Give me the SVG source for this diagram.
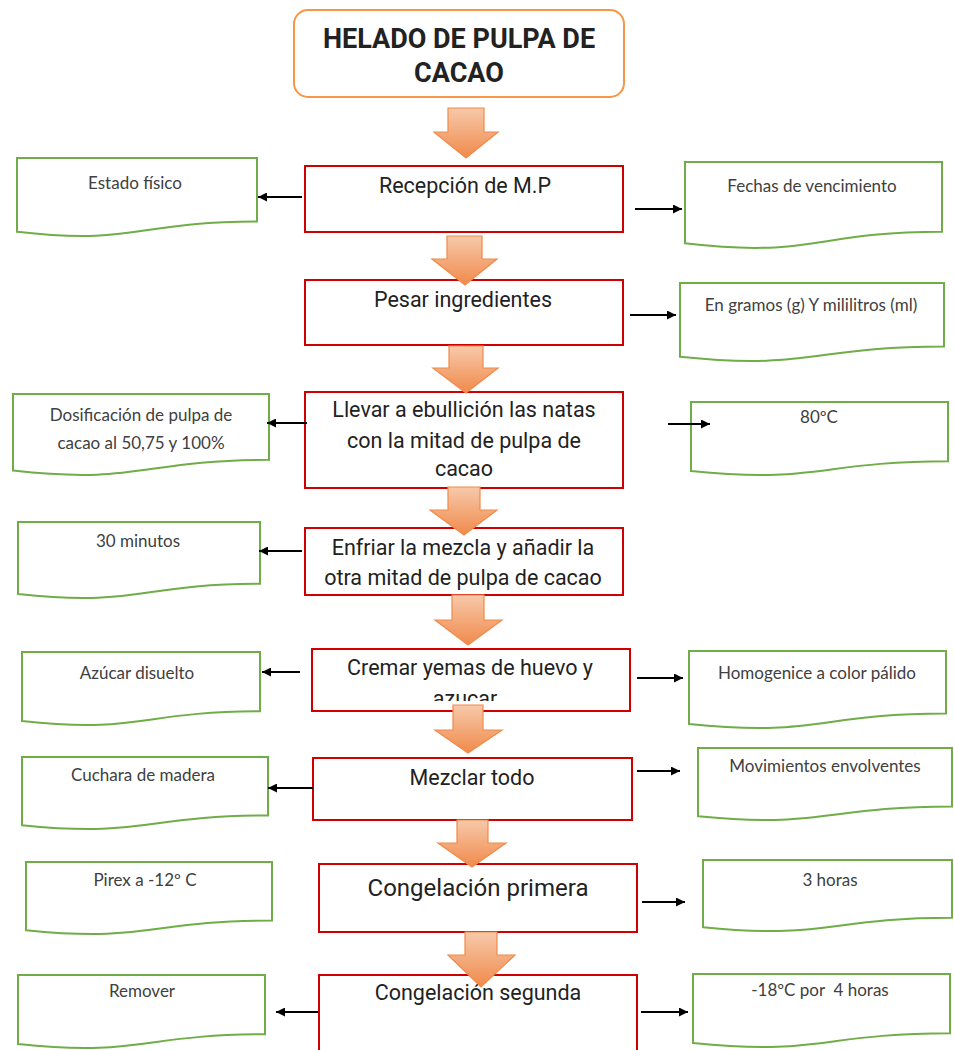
<svg xmlns="http://www.w3.org/2000/svg" width="954" height="1050" viewBox="0 0 954 1050">
<defs>
<style>
.title{font-family:Roboto,"Liberation Sans",sans-serif;font-weight:bold;font-size:27px;fill:#222;text-anchor:middle}
.proc{fill:#fff;stroke:#D00000;stroke-width:2}
.ptxt{font-family:Roboto,"Liberation Sans",sans-serif;font-size:21.5px;fill:#222;text-anchor:middle}
.doc{fill:#fff;stroke:#70AD47;stroke-width:2}
.dtxt{font-family:Lato,"Open Sans",sans-serif;font-size:17px;fill:#404040;text-anchor:middle;white-space:pre}
.conn{stroke:#000;stroke-width:2;fill:none;marker-end:url(#ah)}
.blk{fill:url(#og);stroke:#F08A4B;stroke-width:1.2}
</style>
<marker id="ah" markerUnits="userSpaceOnUse" markerWidth="9" markerHeight="9" refX="9" refY="4.5" orient="auto">
<path d="M0,0 L9,4.5 L0,9 Z" fill="#000"/>
</marker>
<linearGradient id="og" x1="0" y1="0" x2="0" y2="1">
<stop offset="0" stop-color="#F7C9AA"/>
<stop offset="1" stop-color="#F08A4B"/>
</linearGradient>
<clipPath id="cp5"><rect x="312" y="649" width="318" height="52"/></clipPath>
</defs>

<g id="title">
<rect x="294" y="10" width="330" height="87" rx="14" fill="#fff" stroke="#F79646" stroke-width="2"/>
<text class="title" x="459" y="48">HELADO DE PULPA DE</text>
<text class="title" x="459" y="82">CACAO</text>
</g>

<g id="p1"><rect class="proc" x="305" y="166" width="318" height="66"/><text class="ptxt" x="465" y="193">Recepción de M.P</text></g>
<g id="p2"><rect class="proc" x="305" y="280" width="318" height="65"/><text class="ptxt" x="463" y="307">Pesar ingredientes</text></g>
<g id="p3"><rect class="proc" x="305" y="392" width="318" height="96"/><text class="ptxt" x="464" y="417">Llevar a ebullición las natas</text><text class="ptxt" x="464" y="448">con la mitad de pulpa de</text><text class="ptxt" x="464" y="476">cacao</text></g>
<g id="p4"><rect class="proc" x="305" y="528" width="318" height="67"/><text class="ptxt" x="463" y="555">Enfriar la mezcla y añadir la</text><text class="ptxt" x="463" y="585">otra mitad de pulpa de cacao</text></g>
<g id="p5"><rect class="proc" x="312" y="649" width="318" height="62"/><text class="ptxt" x="470" y="675">Cremar yemas de huevo y</text><text class="ptxt" x="465" y="706" clip-path="url(#cp5)">azucar</text></g>
<g id="p6"><rect class="proc" x="313" y="758" width="319" height="62"/><text class="ptxt" x="472" y="785">Mezclar todo</text></g>
<g id="p7"><rect class="proc" x="319" y="864" width="318" height="68"/><text class="ptxt" x="478" y="896" style="font-size:24px">Congelación primera</text></g>
<g id="p8"><rect class="proc" x="319" y="975" width="318" height="80"/><text class="ptxt" x="478" y="1000">Congelación segunda</text></g>

<g id="l1"><path class="doc" d="M17,158 H257 V221.4 C137,221.4 137,245.5 17,231.8 Z"/><text class="dtxt" x="135" y="189">Estado físico</text></g>
<g id="r1"><path class="doc" d="M685,162 H942 V231.8 C813.5,231.8 813.5,258.4 685,243.3 Z"/><text class="dtxt" x="812" y="192">Fechas de vencimiento</text></g>
<g id="r2"><path class="doc" d="M680,283 H944 V346.4 C812,346.4 812,370.5 680,356.8 Z"/><text class="dtxt" x="811" y="311">En gramos (g) Y mililitros (ml)</text></g>
<g id="l2"><path class="doc" d="M13,394 H269 V459.8 C141,459.8 141,484.8 13,470.6 Z"/><text class="dtxt" x="141" y="421">Dosificación de pulpa de</text><text class="dtxt" x="141" y="449">cacao al 50,75 y 100%</text></g>
<g id="r3"><path class="doc" d="M691,402 H948 V461.3 C819.5,461.3 819.5,484 691,471.1 Z"/><text class="dtxt" x="819" y="423">80ºC</text></g>
<g id="l3"><path class="doc" d="M18,522 H260 V583.8 C139,583.8 139,607.3 18,593.9 Z"/><text class="dtxt" x="138" y="547">30 minutos</text></g>
<g id="l4"><path class="doc" d="M22,652 H260 V711.3 C141,711.3 141,734 22,721.1 Z"/><text class="dtxt" x="137" y="679">Azúcar disuelto</text></g>
<g id="r5"><path class="doc" d="M689,651 H946 V713.6 C817.5,713.6 817.5,737.4 689,723.9 Z"/><text class="dtxt" x="817" y="679">Homogenice a color pálido</text></g>
<g id="l5"><path class="doc" d="M22,757 H268 V815.5 C145,815.5 145,837.8 22,825.2 Z"/><text class="dtxt" x="143" y="781">Cuchara de madera</text></g>
<g id="r6"><path class="doc" d="M698,748 H952 V806.5 C825,806.5 825,828.8 698,816.2 Z"/><text class="dtxt" x="825" y="772">Movimientos envolventes</text></g>
<g id="l6"><path class="doc" d="M26,862 H272 V920.5 C149,920.5 149,942.8 26,930.2 Z"/><text class="dtxt" x="145" y="886">Pirex a -12º C</text></g>
<g id="r7"><path class="doc" d="M703,860 H952 V917.7 C828,917.7 828,939.7 703,927.2 Z"/><text class="dtxt" x="830" y="886">3 horas</text></g>
<g id="l7"><path class="doc" d="M18,975 H265 V1034.3 C141.5,1034.3 141.5,1057 18,1044.1 Z"/><text class="dtxt" x="142" y="997">Remover</text></g>
<g id="r8"><path class="doc" d="M693,974 H950 V1033.3 C821.5,1033.3 821.5,1056 693,1043.1 Z"/><text class="dtxt" x="820" y="996" xml:space="preserve">-18ºC por  4 horas</text></g>

<g id="connectors">
<polygon class="blk" points="448,108 484,108 484,132 498,132 466,158 434,132 448,132"/>
<polygon class="blk" points="447,236 482,236 482,259 497,259 465,285 432,259 447,259"/>
<polygon class="blk" points="449,346 483,346 483,368 498,368 466,393 433,368 449,368"/>
<polygon class="blk" points="448,487 480,487 480,510 497,510 464,535 430,510 448,510"/>
<polygon class="blk" points="452,595 484,595 484,620 502,620 468,645 435,620 452,620"/>
<polygon class="blk" points="453,705 483,705 483,730 502,730 468,753 435,730 453,730"/>
<polygon class="blk" points="457,820 488,820 488,843 506,843 472,867 438,843 457,843"/>
<polygon class="blk" points="465,932 497,932 497,955 515,955 481,987 448,955 465,955"/>
<line class="conn" x1="302" y1="197" x2="258" y2="197"/>
<line class="conn" x1="635" y1="209" x2="682" y2="209"/>
<line class="conn" x1="630" y1="315" x2="676" y2="315"/>
<line class="conn" x1="307" y1="423" x2="267" y2="423"/>
<line class="conn" x1="668" y1="424" x2="710" y2="424"/>
<line class="conn" x1="302" y1="551" x2="259" y2="551"/>
<line class="conn" x1="300" y1="672" x2="262" y2="672"/>
<line class="conn" x1="637" y1="678" x2="683" y2="678"/>
<line class="conn" x1="313" y1="788" x2="268" y2="788"/>
<line class="conn" x1="637" y1="771" x2="680" y2="771"/>
<line class="conn" x1="642" y1="902" x2="685" y2="902"/>
<line class="conn" x1="318" y1="1012" x2="276" y2="1012"/>
<line class="conn" x1="641" y1="1012" x2="688" y2="1012"/>
</g>
</svg>
